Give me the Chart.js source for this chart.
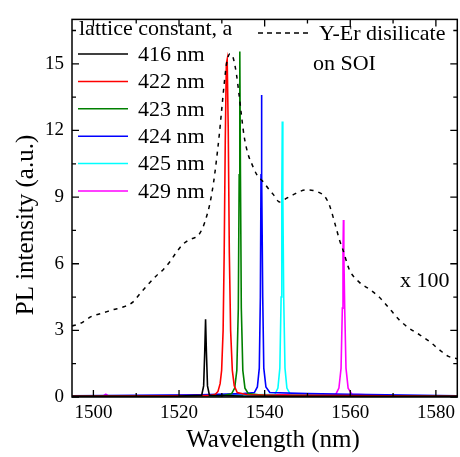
<!DOCTYPE html>
<html>
<head>
<meta charset="utf-8">
<script src="https://cdn.jsdelivr.net/npm/chart.js@4.4.1/dist/chart.umd.min.js"></script>
<style>
  html, body { margin: 0; padding: 0; background: #fff; }
</style>
</head>
<body>
<canvas id="chart" width="460" height="457"></canvas>
<script>
const FONT = '"Liberation Serif", "Times New Roman", serif';

// axis ticks
const xMajor = [1500, 1520, 1540, 1560, 1580];
const xMinor = [1510, 1530, 1550, 1570];
const yMajor = [0, 3, 6, 9, 12, 15];
const yMinor = [1.5, 4.5, 7.5, 10.5, 13.5, 16.5];

// Y-Er disilicate on SOI (x 100), dashed
const erX = [1495, 1496.9, 1499.6, 1502.3, 1504.6, 1507.1, 1509.2, 1511.0, 1512.9, 1514.6,
  1516.3, 1517.9, 1519.4, 1521.1, 1522.7, 1524.5, 1525.6, 1526.4, 1527.2, 1528.1,
  1528.7, 1529.4, 1529.9, 1530.5, 1531.1, 1531.9, 1532.6, 1533.4, 1534.0, 1534.6,
  1535.2, 1536.1, 1537.1, 1538.2, 1539.6, 1540.8, 1542.1, 1543.5, 1544.7, 1546.6,
  1548.2, 1549.5, 1551.3, 1552.8, 1554.0, 1555.2, 1556.5, 1557.5, 1558.3, 1559.8,
  1562.2, 1564.5, 1566.8, 1569.2, 1571.5, 1573.8, 1576.2, 1578.5, 1580.8, 1582.8, 1585];
const erY = [3.2, 3.31, 3.63, 3.79, 3.93, 4.06, 4.27, 4.68, 5.09, 5.44,
  5.73, 6.10, 6.52, 6.91, 7.10, 7.28, 7.65, 8.1, 8.7, 9.7,
  10.6, 11.8, 12.8, 14.0, 15.0, 15.45, 15.3, 14.55, 13.65, 12.65,
  11.75, 10.95, 10.45, 10.0, 9.7, 9.4, 9.1, 8.78, 8.9, 9.1,
  9.25, 9.32, 9.3, 9.2, 9.04, 8.6, 7.75, 7.06, 6.62, 5.73,
  5.15, 4.85, 4.49, 3.97, 3.46, 3.09, 2.80, 2.50, 2.13, 1.84, 1.72];

// photonic crystal cavities, lattice constant a
const seriesLabels = ['416 nm', '422 nm', '423 nm', '424 nm', '425 nm', '429 nm'];
const seriesColors = ['#000000', '#ff0000', '#008000', '#0000ff', '#00ffff', '#ff00ff'];

const p416X = [1495, 1520, 1525.3, 1525.75, 1526.0, 1526.2, 1526.4, 1526.65, 1527.1, 1535, 1585];
const p416Y = [0.03, 0.04, 0.08, 0.5, 2.0, 3.5, 2.0, 0.5, 0.08, 0.04, 0.03];

const p422X = [1495, 1527, 1528.5, 1529.1, 1529.6, 1529.95, 1530.3, 1530.55, 1530.8, 1531.05,
  1531.25, 1531.5, 1531.75, 1532.05, 1532.45, 1532.9, 1533.6, 1536, 1585];
const p422Y = [0.03, 0.06, 0.12, 0.25, 0.6, 1.2, 3.0, 6.5, 11.5, 15.0,
  15.2, 12.0, 6.5, 3.0, 1.2, 0.5, 0.2, 0.1, 0.03];

const p423X = [1495, 1530, 1532.3, 1533.0, 1533.5, 1533.85, 1534.05, 1534.2, 1534.35, 1534.55,
  1534.9, 1535.4, 1536.2, 1540, 1585];
const p423Y = [0.03, 0.05, 0.15, 0.4, 1.2, 4.0, 10.0, 15.55, 10.0, 4.0,
  1.2, 0.4, 0.15, 0.06, 0.03];

const p424X = [1495, 1525, 1535, 1537.6, 1538.3, 1538.75, 1539.0, 1539.15, 1539.25, 1539.35,
  1539.55, 1539.8, 1540.3, 1541.2, 1550, 1560, 1585];
const p424Y = [0.05, 0.1, 0.15, 0.2, 0.45, 1.3, 4.5, 10.0, 13.6, 10.0,
  4.5, 1.3, 0.45, 0.2, 0.15, 0.12, 0.05];

const p425X = [1495, 1530, 1542.4, 1543.1, 1543.55, 1543.85, 1544.0, 1544.12, 1544.25, 1544.45,
  1544.75, 1545.2, 1546.0, 1560, 1585];
const p425Y = [0.03, 0.06, 0.12, 0.4, 1.3, 4.5, 9.0, 12.4, 9.0, 4.5,
  1.3, 0.4, 0.12, 0.08, 0.03];

const p429X = [1495, 1502.3, 1502.9, 1503.5, 1530, 1556.6, 1557.35, 1557.85, 1558.15, 1558.3,
  1558.4, 1558.5, 1558.7, 1559.0, 1559.5, 1560.4, 1570, 1585];
const p429Y = [0.05, 0.05, 0.13, 0.05, 0.06, 0.12, 0.4, 1.3, 4.0, 6.5,
  7.97, 6.5, 4.0, 1.3, 0.4, 0.12, 0.05, 0.03];

const peakX = [p416X, p422X, p423X, p424X, p425X, p429X];
const peakY = [p416Y, p422Y, p423Y, p424Y, p425Y, p429Y];

function pts(xs, ys) {
  return xs.map((x, i) => ({ x: x, y: ys[i] }));
}

const datasets = [{
  label: 'Y-Er disilicate on SOI',
  data: pts(erX, erY),
  borderColor: '#000',
  borderWidth: 1.5,
  borderDash: [4, 5],
  pointRadius: 0,
  cubicInterpolationMode: 'monotone'
}];
seriesLabels.forEach((lab, i) => {
  datasets.push({
    label: lab,
    data: pts(peakX[i], peakY[i]),
    borderColor: seriesColors[i],
    borderWidth: 1.6,
    pointRadius: 0,
    tension: 0
  });
});

// frame, inward ticks, legends and axis titles
const decor = {
  id: 'decor',
  afterDraw(chart) {
    const ctx = chart.ctx;
    const a = chart.chartArea;
    const xs = chart.scales.x, ys = chart.scales.y;
    ctx.save();
    ctx.strokeStyle = '#000';
    ctx.lineWidth = 1.5;
    ctx.strokeRect(a.left, a.top, a.right - a.left, a.bottom - a.top);

    ctx.lineWidth = 1.3;
    ctx.beginPath();
    function xt(v, len) {
      const p = xs.getPixelForValue(v);
      ctx.moveTo(p, a.bottom); ctx.lineTo(p, a.bottom - len);
      ctx.moveTo(p, a.top); ctx.lineTo(p, a.top + len);
    }
    function yt(v, len) {
      const p = ys.getPixelForValue(v);
      ctx.moveTo(a.left, p); ctx.lineTo(a.left + len, p);
      ctx.moveTo(a.right, p); ctx.lineTo(a.right - len, p);
    }
    xMajor.forEach(v => xt(v, 7));
    xMinor.forEach(v => xt(v, 4));
    yMajor.forEach(v => yt(v, 7));
    yMinor.forEach(v => yt(v, 4));
    ctx.stroke();

    // legend (lattice constant)
    ctx.fillStyle = '#000';
    ctx.font = '22px ' + FONT;
    ctx.textBaseline = 'middle';
    ctx.textAlign = 'left';
    ctx.fillText('lattice constant, a', 79, 29);
    const ds = chart.data.datasets;
    for (let i = 1; i < ds.length; i++) {
      const y = 54 + (i - 1) * 27.4;
      ctx.strokeStyle = ds[i].borderColor;
      ctx.lineWidth = 1.5;
      ctx.beginPath();
      ctx.moveTo(78, y); ctx.lineTo(128, y);
      ctx.stroke();
      ctx.fillText(ds[i].label, 138, y + 1);
    }

    // legend (dashed)
    ctx.strokeStyle = '#000';
    ctx.setLineDash([5, 4]);
    ctx.beginPath();
    ctx.moveTo(258, 33); ctx.lineTo(310, 33);
    ctx.stroke();
    ctx.setLineDash([]);
    ctx.fillText('Y-Er disilicate', 319, 34);
    ctx.fillText('on SOI', 313, 64);
    ctx.fillText('x 100', 400, 281);

    // axis titles
    ctx.font = '25px ' + FONT;
    ctx.textAlign = 'center';
    ctx.fillText('Wavelength (nm)', 273, 440);
    ctx.translate(26, 225);
    ctx.rotate(-Math.PI / 2);
    ctx.fillText('PL intensity (a.u.)', 0, 0);
    ctx.restore();
  }
};

new Chart(document.getElementById('chart').getContext('2d'), {
  type: 'line',
  data: { datasets: datasets },
  options: {
    responsive: false,
    animation: false,
    layout: { padding: { top: 11, right: 2, left: 0, bottom: 0 } },
    plugins: { legend: { display: false }, tooltip: { enabled: false } },
    scales: {
      x: {
        type: 'linear',
        min: 1495,
        max: 1585,
        grid: { display: false, drawTicks: false },
        border: { display: false },
        afterBuildTicks: s => { s.ticks = xMajor.map(v => ({ value: v })); },
        afterFit: s => { s.height = 60; },
        ticks: {
          font: { family: FONT, size: 19 }, color: '#000', padding: 5, maxRotation: 0,
          callback: v => String(v)
        }
      },
      y: {
        type: 'linear',
        min: 0,
        max: 17,
        grid: { display: false, drawTicks: false },
        border: { display: false },
        afterBuildTicks: s => { s.ticks = yMajor.map(v => ({ value: v })); },
        afterFit: s => { s.width = 72; },
        ticks: {
          font: { family: FONT, size: 19 }, color: '#000', padding: 8,
          callback: v => String(v)
        }
      }
    }
  },
  plugins: [decor]
});
</script>
</body>
</html>
